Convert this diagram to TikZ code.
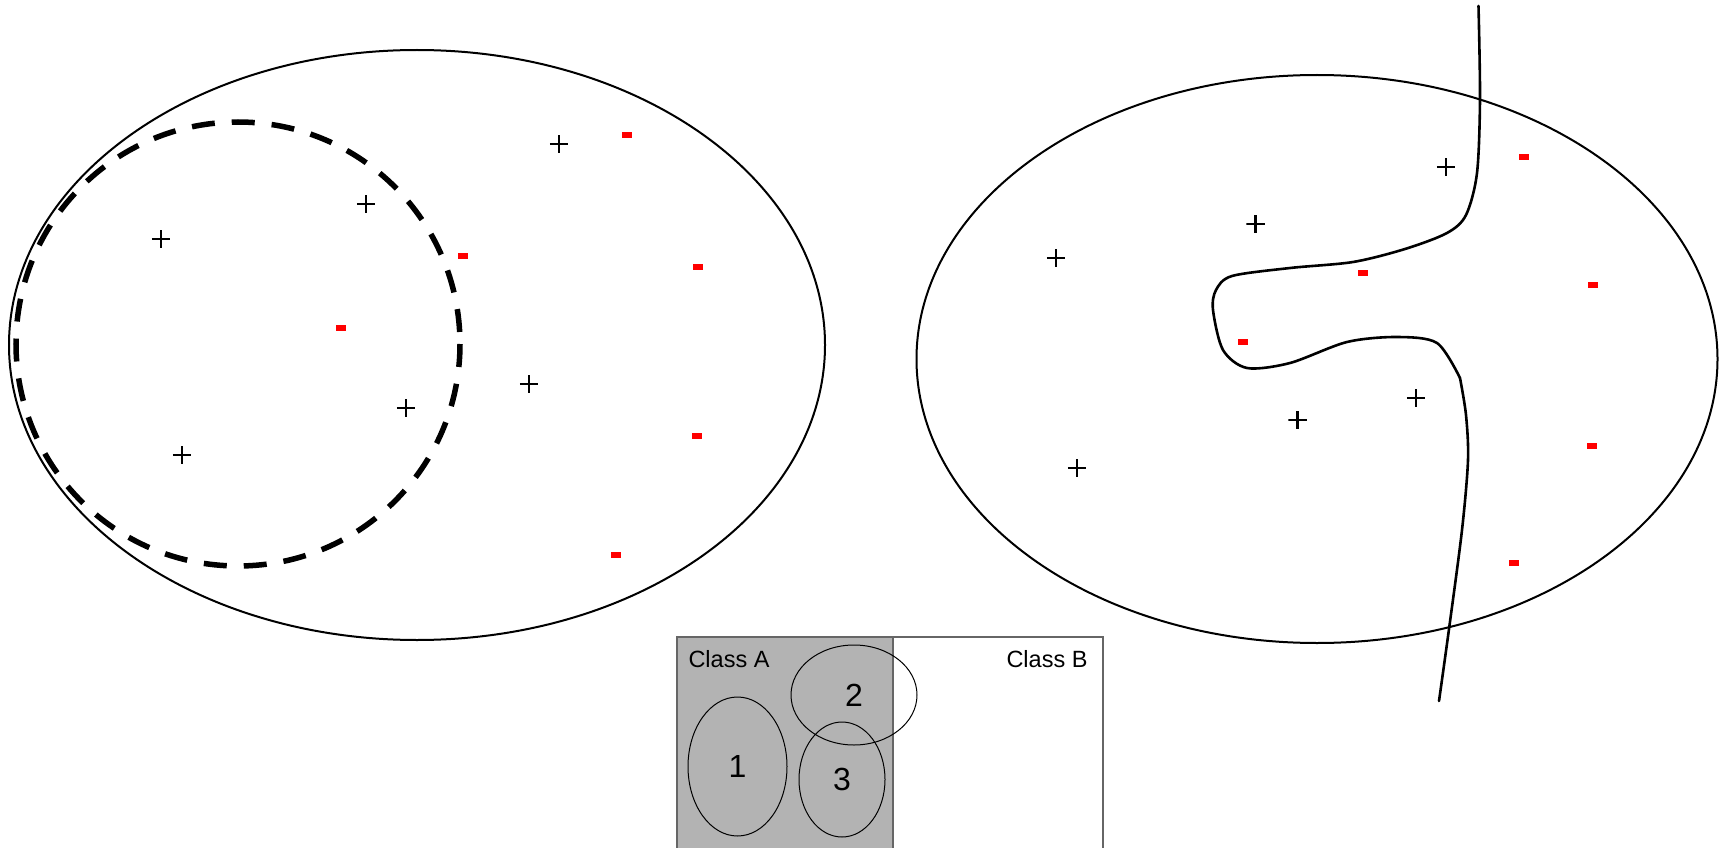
\documentclass[tikz,border=0pt]{standalone}
\usepackage{fontspec}
\setmainfont{Liberation Sans}
\usetikzlibrary{shapes.geometric}
\definecolor{classA}{RGB}{179,179,179}

\begin{document}
\begin{tikzpicture}[x=1pt, y=-1pt,
  plus/.style={inner sep=0pt, minimum width=18.5pt, minimum height=17.5pt,
    path picture={\draw[line width=2.8pt] (path picture bounding box.north) -- (path picture bounding box.south)
      (path picture bounding box.west) -- (path picture bounding box.east);}},
  minus/.style={fill=red, inner sep=0pt, minimum width=10.5pt, minimum height=5.5pt},
  region/.style={line width=2pt},
  border/.style={line width=2.6pt, line join=round, line cap=round},
  cluster/.style={draw, ellipse, line width=1pt, inner sep=0pt, font=\fontsize{32}{36}\selectfont},
  label/.style={anchor=base, font=\fontsize{23.5}{27}\selectfont}]
  \useasboundingbox (0,0) rectangle (1730,848);
  \draw[region] (417,345) ellipse [x radius=408, y radius=295];
  \draw[line width=5.5pt, dash pattern=on 23pt off 17pt] (238,344) circle [radius=222];
  \node[plus] (lp1) at (161,239) {};
  \node[plus] (lp2) at (366,204) {};
  \node[plus] (lp3) at (559,144) {};
  \node[plus] (lp4) at (529,384) {};
  \node[plus] (lp5) at (406,408) {};
  \node[plus] (lp6) at (182,455) {};
  \node[minus] (lm1) at (627,135) {};
  \node[minus] (lm2) at (463,256) {};
  \node[minus] (lm3) at (341,328) {};
  \node[minus] (lm4) at (698,267) {};
  \node[minus] (lm5) at (697,436) {};
  \node[minus] (lm6) at (616,555) {};
  \draw[region] (1317,359) ellipse [x radius=400.5, y radius=284];
  \coordinate (kink) at (1460,378);
  \draw[border] plot[smooth] coordinates {(1478.5,6) (1480,99) (1477,173) (1466,215) (1447,233) (1405,249)
    (1353,262) (1290,268) (1232,276) (1216,290) (1213,310) (1223,350) (1247,368) (1290,363) (1347,342)
    (1397,337) (1437,343) (kink)};
  \draw[border] plot[smooth] coordinates {(kink) (1466,415) (1468,460) (1462,530) (1449,629) (1439,701)};
  \node[plus] (rp1) at (1056,258) {};
  \node[plus] (rp2) at (1255.5,224) {};
  \node[plus] (rp3) at (1446,167) {};
  \node[plus] (rp4) at (1416,398) {};
  \node[plus] (rp5) at (1297.5,420) {};
  \node[plus] (rp6) at (1077,468) {};
  \node[minus] (rm1) at (1524,157) {};
  \node[minus] (rm2) at (1363,273) {};
  \node[minus] (rm3) at (1243,342) {};
  \node[minus] (rm4) at (1593,285) {};
  \node[minus] (rm5) at (1592,446) {};
  \node[minus] (rm6) at (1514,563) {};
  \fill[classA] (677,637) rectangle (893,848);
  \draw[black!60, line width=1.3pt] (677,848) -- (677,637) -- (1103,637) -- (1103,848) (893,637) -- (893,848);
  \node[label] (ca) at (729,667) {Class A};
  \node[label] (cb) at (1047,667) {Class B};
  \node[cluster, minimum width=99pt, minimum height=139pt] (c1) at (737.5,766.5) {1};
  \node[cluster, minimum width=126pt, minimum height=100pt] (c2) at (854,695) {2};
  \node[cluster, minimum width=86pt, minimum height=115pt] (c3) at (842,779.5) {3};
\end{tikzpicture}
\end{document}
